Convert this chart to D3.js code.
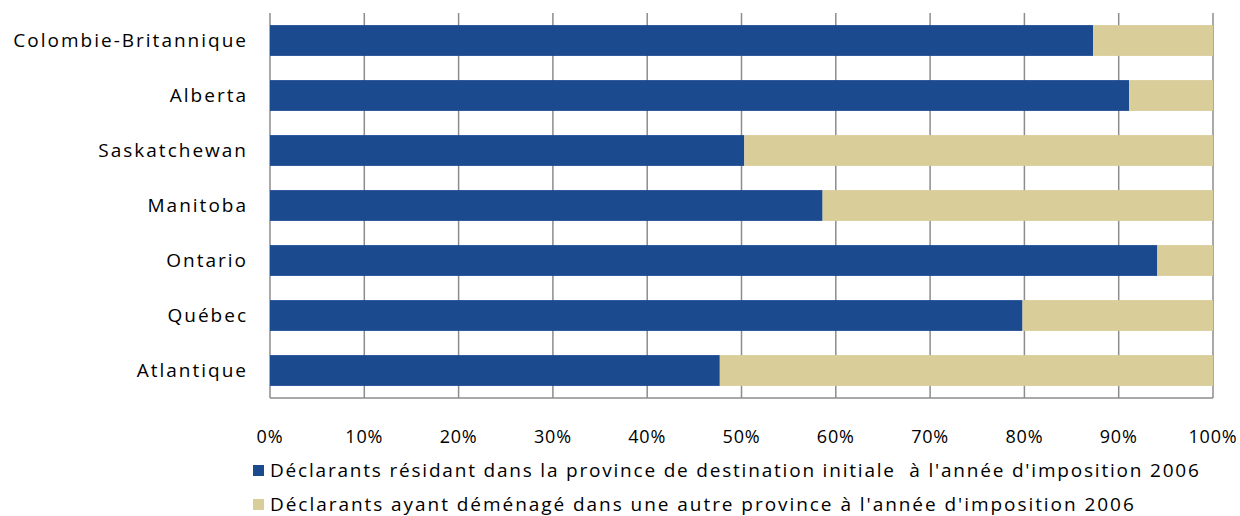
<!DOCTYPE html>
<html><head><meta charset="utf-8">
<script src="https://cdn.jsdelivr.net/npm/d3@7"></script>
<style>body{margin:0;background:#fff}svg{display:block}</style>
</head><body>
<svg id="c" width="1240" height="516"></svg>
<script>
const categories = ["Colombie-Britannique","Alberta","Saskatchewan","Manitoba","Ontario","Québec","Atlantique"];
const resident = [87.3, 91.1, 50.3, 58.6, 94.1, 79.8, 47.7];
const moved = resident.map(v => 100 - v);
const ticks = [0,10,20,30,40,50,60,70,80,90,100];
const seriesNames = ["Déclarants résidant dans la province de destination initiale  à l'année d'imposition 2006",
                     "Déclarants ayant déménagé dans une autre province à l'année d'imposition 2006"];
const colors = ["#1B4A8F","#D9CD99"];

const svg = d3.select("#c");
const font = "'Open Sans', sans-serif";
const x = d3.scaleLinear().domain([0,100]).range([270,1213]);
const y = d3.scaleBand().domain(categories).range([13,398]).paddingInner(0.44).paddingOuter(0.22);

// gridlines
svg.append("g").selectAll("line").data(ticks).join("line")
  .attr("x1", d=>x(d)).attr("x2", d=>x(d)).attr("y1",13).attr("y2",398)
  .attr("stroke","#8c8c8c").attr("stroke-width",1.5);
svg.append("line").attr("x1",x(0)).attr("x2",x(100)).attr("y1",398).attr("y2",398)
  .attr("stroke","#8c8c8c").attr("stroke-width",1.5);

const data = categories.map((c,i)=>({cat:c, vals:[resident[i], moved[i]]}));
const stack = d3.stack().keys([0,1]).value((d,k)=>d.vals[k])(data);
svg.append("g").selectAll("g").data(stack).join("g").attr("fill",(d,i)=>colors[i])
  .selectAll("rect").data(d=>d).join("rect")
  .attr("x", d=>x(d[0])).attr("width", d=>x(d[1])-x(d[0]))
  .attr("y", d=>y(d.data.cat)).attr("height", y.bandwidth());

// category labels
svg.append("g").selectAll("text").data(categories).join("text")
  .attr("x",248).attr("y",d=>y(d)+y.bandwidth()/2).attr("dy","0.35em")
  .attr("text-anchor","end").attr("font-family",font).attr("font-size",19).attr("fill","#000")
  .attr("letter-spacing","2px")
  .text(d=>d);

// tick labels
svg.append("g").selectAll("text").data(ticks).join("text")
  .attr("x",d=>x(d)).attr("y",443).attr("text-anchor","middle")
  .attr("font-family",font).attr("font-size",18).attr("fill","#000")
  .attr("letter-spacing","0.8px")
  .text(d=>d+"%");

// legend
const lg = svg.append("g").selectAll("g").data(seriesNames).join("g")
  .attr("transform",(d,i)=>`translate(253,${470.5+i*34})`);
lg.append("rect").attr("x",0).attr("y",-5.5).attr("width",11).attr("height",11).attr("fill",(d,i)=>colors[i]);
lg.append("text").attr("x",17).attr("y",6).attr("font-family",font).attr("font-size",19)
  .attr("fill","#000").attr("letter-spacing",(d,i)=>i?"1.95px":"1.8px").style("white-space","pre").text(d=>d);
</script>
</body></html>
